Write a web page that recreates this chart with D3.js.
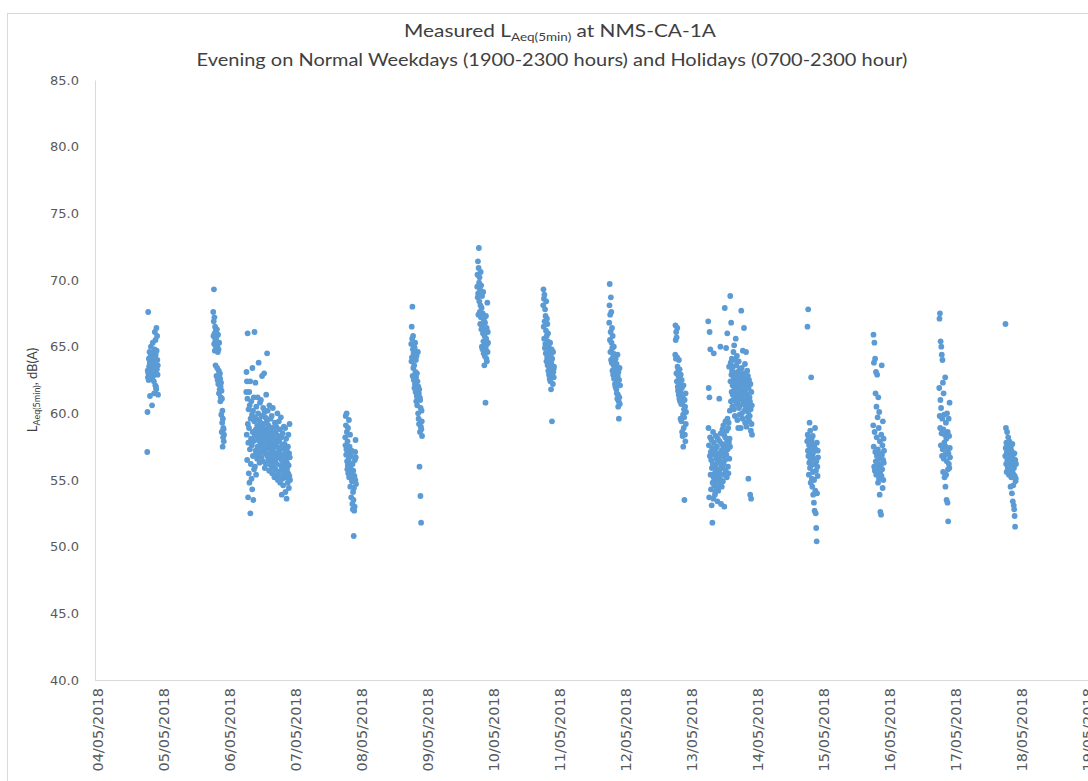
<!DOCTYPE html>
<meta charset="utf-8">
<title>Measured LAeq(5min) at NMS-CA-1A</title>
<style>
  body { margin: 0; background: white; }
  svg { font-family: Lato, sans-serif; background: white; }
  .axis path, .axis line { stroke: #d9d9d9; }
  .axis text { fill: #595959; }
</style>
<body>
<div id="chart"></div>
<script src="https://d3js.org/d3.v7.min.js"></script>
<script>

// LAeq(5min) readings, dB(A), one array per measuring window (5 minute steps)
var may04 = [57.1, 60.1, 63.2, 62.7, 67.6, 63.0, 62.5, 64.1, 63.5, 62.9, 64.6, 63.8, 61.3, 63.1, 62.8, 64.3,
  65.0, 63.6, 62.6, 64.0, 63.3, 60.6, 62.7, 64.5, 65.3, 63.9, 62.8, 64.2, 63.4, 62.4, 61.5, 63.7,
  64.8, 66.1, 63.0, 62.1, 65.5, 64.4, 62.0, 61.8, 66.4, 64.7, 63.3, 65.8, 64.0, 62.9, 63.6, 61.4];
var may05 = [67.6, 65.8, 66.9, 69.3, 65.2, 67.2, 66.0, 64.7, 66.5, 65.5, 63.6, 66.2, 64.9, 65.7, 62.8, 65.4,
  66.3, 63.4, 65.0, 62.5, 64.6, 65.9, 62.2, 64.8, 63.2, 61.5, 65.3, 62.9, 61.8, 63.0, 62.6, 60.9,
  62.0, 61.2, 62.3, 59.9, 61.7, 58.6, 61.1, 59.3, 60.2, 57.5, 59.6, 58.2, 58.9, 58.8, 57.9, 58.4];
var may06 = [
  61.6, 63.1, 58.4, 62.4, 56.5, 61.1, 66.0, 59.2, 53.7, 57.8, 60.3, 55.5,
  58.9, 61.6, 54.8, 60.6, 57.3, 62.4, 52.5, 59.6, 56.2, 58.1, 60.9, 55.1,
  57.6, 59.9, 54.3, 63.4, 58.6, 56.8, 60.2, 53.5, 57.9, 61.2, 55.8, 59.4,
  66.1, 58.3, 56.0, 59.7, 62.3, 57.2, 58.8, 55.4, 60.5, 57.0, 58.5, 56.6,
  59.1, 57.5, 61.2, 58.0, 60.0, 56.9, 63.8, 58.7, 57.4, 59.5, 56.3, 58.2,
  60.8, 57.7, 59.3, 58.4, 61.0, 57.1, 59.8, 56.7, 58.9, 62.8, 57.9, 59.0,
  58.1, 56.4, 60.4, 57.6, 59.2, 58.6, 63.0, 57.3, 60.1, 55.9, 58.3, 59.7,
  57.0, 58.8, 56.2, 61.4, 58.0, 57.5, 59.4, 64.5, 56.8, 58.5, 60.2, 57.8,
  56.5, 59.1, 57.4, 58.2, 55.7, 60.6, 57.9, 56.9, 58.7, 57.2, 59.6, 56.1,
  58.4, 57.1, 56.3, 59.8, 57.7, 55.5, 58.9, 56.7, 60.4, 57.3, 55.9, 58.1,
  57.6, 56.0, 58.5, 55.2, 57.0, 59.3, 56.4, 57.8, 55.8, 58.6, 56.6, 59.0,
  56.2, 58.0, 55.4, 57.5, 60.0, 56.8, 55.0, 58.3, 57.1, 55.6, 59.4, 56.9,
  57.9, 55.3, 56.7, 58.8, 54.8, 57.3, 56.1, 59.7, 55.7, 58.2, 56.5, 53.9,
  56.0, 57.6, 55.1, 58.5, 56.9, 54.6, 57.4, 55.9, 59.0, 56.3, 55.4, 57.7,
  55.6, 57.0, 58.9, 54.1, 56.6, 55.2, 58.1, 56.4, 53.6, 57.2, 55.8, 56.8,
  56.2, 54.8, 57.5, 55.5, 58.4, 56.1, 54.4, 57.0, 55.3, 59.2, 56.7, 55.0];
var may07 = [58.2, 57.6, 59.8, 59.1, 56.9, 57.3, 60.0, 58.6, 56.4, 55.8, 57.9, 56.1, 58.9, 55.5, 57.0, 56.6,
  59.5, 55.2, 56.3, 57.5, 55.9, 58.4, 54.5, 56.0, 55.4, 56.8, 53.7, 55.6, 57.2, 54.9, 55.1, 53.2,
  56.2, 52.8, 54.1, 55.7, 53.5, 50.8, 54.4, 52.7, 55.3, 53.0, 56.5, 57.1, 55.0, 58.0, 56.7, 54.7];
var may08 = [65.2, 63.9, 66.5, 64.2, 65.6, 68.0, 62.8, 64.8, 65.8, 63.4, 64.5, 62.5, 65.0, 63.6, 61.9, 64.9,
  62.2, 65.3, 63.1, 61.6, 64.0, 62.7, 60.9, 64.3, 61.3, 63.0, 60.6, 62.4, 61.1, 64.6, 60.0, 62.0,
  59.6, 61.5, 59.2, 61.8, 56.0, 61.2, 58.6, 61.0, 53.8, 60.4, 59.0, 51.8, 58.8, 60.2, 59.4, 58.3];
var may09 = [69.5, 70.4, 68.7, 71.4, 69.0, 67.4, 70.9, 72.4, 69.8, 68.4, 70.2, 67.6, 69.3, 66.7, 68.1, 70.6,
  67.2, 69.6, 66.3, 67.9, 65.0, 68.8, 66.5, 64.8, 67.5, 66.0, 69.1, 65.4, 64.5, 67.0, 66.2, 63.6,
  65.8, 64.3, 66.8, 65.1, 60.8, 64.9, 67.3, 65.6, 64.1, 66.4, 63.9, 65.2, 68.3, 64.6, 66.1, 65.3];
var may10 = [68.1, 69.3, 66.5, 68.6, 65.6, 68.9, 66.9, 64.9, 67.8, 65.2, 67.3, 64.5, 66.2, 68.4, 63.9, 65.8,
  67.1, 64.2, 66.7, 63.6, 65.4, 66.0, 63.2, 64.4, 65.0, 62.9, 64.7, 63.7, 62.6, 64.0, 65.3, 62.4,
  63.4, 64.3, 61.8, 63.8, 63.0, 64.8, 59.4, 64.1, 62.8, 63.5, 62.2, 64.6, 63.1, 63.3, 62.7, 63.5];
var may11 = [66.8, 68.1, 69.7, 65.5, 67.4, 64.6, 66.1, 68.7, 64.0, 67.6, 65.3, 63.8, 66.4, 64.9, 63.2, 65.8,
  64.2, 62.9, 64.5, 63.6, 65.0, 62.6, 63.9, 64.3, 63.0, 62.2, 63.5, 62.0, 64.1, 62.7, 63.3, 61.8,
  63.7, 61.5, 62.4, 61.1, 64.4, 62.8, 61.4, 60.5, 63.1, 60.9, 59.6, 62.5, 61.2, 63.4, 60.7, 62.1];
var may12 = [64.4, 66.6, 65.5, 64.1, 66.1, 63.0, 65.7, 62.4, 64.2, 66.4, 63.5, 62.0, 61.7, 63.2, 62.8, 61.4,
  64.0, 62.6, 61.1, 63.3, 62.2, 60.9, 61.6, 59.6, 62.9, 61.3, 60.7, 59.4, 62.5, 61.9, 58.6, 60.8,
  58.3, 61.2, 59.9, 57.5, 62.1, 58.9, 60.3, 59.7, 53.5, 61.0, 58.4, 60.5, 57.9, 61.5, 59.2, 60.1];
var may13 = [
  66.9, 58.9, 61.9, 57.6, 53.7, 61.2, 66.1, 56.8, 58.2, 64.8, 55.4, 57.1,
  54.3, 56.5, 58.0, 53.1, 55.9, 57.4, 51.8, 54.8, 56.2, 58.6, 53.6, 55.2,
  64.5, 57.8, 54.6, 56.9, 55.5, 53.9, 57.3, 54.1, 56.0, 58.3, 54.9, 55.7,
  56.6, 54.4, 57.5, 55.1, 53.4, 56.3, 58.1, 55.8, 54.2, 57.0, 55.3, 56.7,
  61.1, 55.6, 57.9, 54.7, 56.4, 65.0, 58.5, 55.0, 53.2, 57.2, 56.1, 54.5,
  57.7, 55.9, 58.8, 56.8, 54.9, 57.4, 59.1, 56.2, 55.4, 58.4, 53.0, 57.0,
  67.9, 56.5, 58.2, 59.4, 55.7, 57.6, 64.9, 56.9, 58.7, 55.2, 57.9, 66.0,
  59.6, 57.3, 56.0, 58.9, 55.5, 59.3, 57.8, 63.5, 56.6, 58.1, 60.2, 57.5,
  68.8, 62.4, 63.8, 60.9, 66.8, 62.9, 61.6, 64.1, 63.2, 60.5, 62.1, 61.4,
  63.5, 61.0, 64.6, 62.6, 60.3, 65.1, 61.8, 63.0, 59.8, 62.3, 64.0, 61.2,
  65.6, 62.8, 60.7, 63.6, 61.5, 64.3, 62.0, 59.5, 63.1, 60.9, 62.5, 58.9,
  61.9, 63.9, 60.4, 62.7, 61.3, 59.9, 63.3, 62.2, 60.6, 61.7, 58.9, 62.9,
  67.7, 61.1, 63.4, 60.0, 62.4, 61.6, 59.6, 64.7, 62.1, 60.8, 61.4, 63.0,
  66.4, 62.6, 60.2, 61.8, 63.7, 59.3, 62.3, 61.0, 60.5, 64.6, 61.5, 59.0,
  62.0, 60.7, 63.2, 61.3, 59.7, 62.8, 60.1, 55.1, 61.9, 60.4, 62.5, 59.4,
  61.2, 59.8, 60.9, 53.9, 62.2, 60.3, 58.7, 53.6, 61.6, 59.2, 60.6, 58.4];
var may14 = [57.9, 66.5, 58.4, 57.2, 67.8, 56.8, 58.1, 55.4, 57.6, 56.3, 59.3, 57.0, 55.9, 58.7, 56.5, 54.8,
  57.4, 62.7, 56.1, 58.0, 55.1, 57.7, 54.5, 56.9, 58.3, 55.6, 53.9, 57.1, 56.6, 53.3, 55.0, 57.5,
  52.7, 56.2, 58.9, 54.2, 57.3, 52.5, 55.7, 51.4, 56.4, 50.4, 57.8, 54.0, 56.0, 55.3, 57.2, 56.7];
var may15 = [59.1, 65.9, 57.5, 63.8, 56.0, 65.3, 58.6, 55.7, 64.1, 57.1, 61.5, 56.4, 63.1, 55.4, 60.5, 58.2,
  56.8, 62.9, 55.9, 59.7, 57.3, 54.8, 61.2, 56.2, 58.9, 55.1, 60.1, 56.6, 53.9, 57.9, 55.6, 52.6,
  57.0, 56.1, 52.4, 58.4, 55.3, 63.6, 56.9, 55.8, 57.6, 54.4, 59.4, 56.5, 55.0, 58.1, 56.3, 57.2];
var may16 = [61.9, 67.1, 59.8, 67.5, 58.9, 61.0, 65.4, 57.6, 60.4, 65.0, 58.5, 64.4, 56.8, 59.6, 64.0, 57.3,
  62.3, 55.6, 58.8, 61.5, 56.6, 59.9, 57.8, 55.2, 58.4, 56.9, 62.7, 54.5, 57.5, 59.3, 55.4, 58.1,
  53.5, 56.4, 60.0, 57.1, 53.3, 58.6, 55.8, 51.9, 57.0, 59.6, 56.2, 58.3, 55.9, 60.8, 57.4, 56.7];
var may17 = [56.8, 66.7, 57.4, 58.9, 56.2, 57.8, 55.6, 57.1, 58.6, 56.5, 57.6, 55.9, 56.9, 58.2, 56.3, 57.3,
  55.4, 56.7, 57.9, 56.0, 57.0, 55.7, 56.6, 54.5, 57.5, 56.1, 55.2, 57.2, 56.4, 54.0, 55.8, 57.7,
  56.8, 53.4, 55.5, 54.6, 56.3, 53.1, 55.9, 52.8, 57.0, 52.3, 55.3, 51.5, 56.5, 54.9, 55.1, 56.2];

// first reading of each window (weekday evenings from 1900, Sundays from 0700)
var startTimes = ["2018-05-04 19:00", "2018-05-05 19:00", "2018-05-06 07:00", "2018-05-07 19:00",
  "2018-05-08 19:00", "2018-05-09 19:00", "2018-05-10 19:00", "2018-05-11 19:00", "2018-05-12 19:00",
  "2018-05-13 07:00", "2018-05-14 19:00", "2018-05-15 19:00", "2018-05-16 19:00", "2018-05-17 19:00"];
var seriesValues = [may04, may05, may06, may07, may08, may09, may10, may11, may12, may13,
  may14, may15, may16, may17];

var yTicks = [40, 45, 50, 55, 60, 65, 70, 75, 80, 85];
var xTicks = ["2018-05-04", "2018-05-05", "2018-05-06", "2018-05-07", "2018-05-08", "2018-05-09",
  "2018-05-10", "2018-05-11", "2018-05-12", "2018-05-13", "2018-05-14", "2018-05-15", "2018-05-16",
  "2018-05-17", "2018-05-18", "2018-05-19"];

var width = 1088, height = 781;
var margin = {top: 80, left: 95, right: 3, bottom: 101};

var parseTime = d3.timeParse("%Y-%m-%d %H:%M");
var parseDay = d3.timeParse("%Y-%m-%d");

var points = [];
seriesValues.forEach(function(vals, k) {
  var t0 = parseTime(startTimes[k]);
  vals.forEach(function(v, i) {
    points.push({ time: d3.timeMinute.offset(t0, i * 5), value: v });
  });
});

var svg = d3.select("#chart")
  .append("svg")
    .attr("width", width)
    .attr("height", height);

// chart frame
svg.append("rect")
  .attr("x", 7.5).attr("y", 13.5)
  .attr("width", 1100).attr("height", 800)
  .attr("fill", "none")
  .attr("stroke", "#d9d9d9");

var x = d3.scaleTime()
  .domain([parseDay(xTicks[0]), parseDay(xTicks[xTicks.length - 1])])
  .range([margin.left, width - margin.right]);

var y = d3.scaleLinear()
  .domain([40, 85])
  .range([height - margin.bottom, margin.top]);

// Y axis
var yAxis = svg.append("g")
  .attr("class", "axis")
  .attr("transform", "translate(" + margin.left + ",0)")
  .call(d3.axisLeft(y).tickValues(yTicks).tickSize(0).tickPadding(16).tickFormat(d3.format(".1f")));
yAxis.selectAll("text")
  .style("font-family", "'DejaVu Sans'")
  .style("font-size", "13px");

// X axis
var xAxis = svg.append("g")
  .attr("class", "axis")
  .attr("transform", "translate(0," + y(40) + ")")
  .call(d3.axisBottom(x).tickValues(xTicks.map(parseDay)).tickSize(0).tickFormat(d3.timeFormat("%d/%m/%Y")));
xAxis.select(".domain").attr("d", "M" + margin.left + ",0.5H" + width);
xAxis.selectAll("text")
  .attr("transform", "rotate(-90)")
  .attr("text-anchor", "end")
  .attr("x", -8)
  .attr("y", 0)
  .attr("dy", "0.55em")
  .style("font-family", "'DejaVu Sans'")
  .style("font-size", "14.5px");

// dots
svg.append("g")
  .selectAll("circle")
  .data(points)
  .enter()
  .append("circle")
    .attr("cx", function(d) { return x(d.time); })
    .attr("cy", function(d) { return y(d.value); })
    .attr("r", 2.9)
    .style("fill", "#5b9bd5");

// titles
function fitWidth(sel, cx, target) {
  var w = sel.node().getComputedTextLength();
  var k = target / w;
  sel.attr("transform", "translate(" + cx + ",0) scale(" + k + ",1) translate(" + (-cx) + ",0)");
}

var title = svg.append("text")
  .attr("x", 560).attr("y", 37)
  .attr("text-anchor", "middle")
  .style("font-size", "17px")
  .style("fill", "#404040");
title.append("tspan").text("Measured L");
title.append("tspan").attr("dy", 4).style("font-size", "11px").text("Aeq(5min)");
title.append("tspan").attr("dy", -4).text(" at NMS-CA-1A");
fitWidth(title, 560, 312);

var subtitle = svg.append("text")
  .attr("x", 552).attr("y", 66)
  .attr("text-anchor", "middle")
  .style("font-size", "17px")
  .style("fill", "#404040")
  .text("Evening on Normal Weekdays (1900-2300 hours) and Holidays (0700-2300 hour)");
fitWidth(subtitle, 552, 711);

// y axis title
var yTitle = svg.append("text")
  .attr("transform", "translate(37,390) rotate(-90)")
  .attr("text-anchor", "middle")
  .style("font-size", "13px")
  .style("fill", "#404040");
yTitle.append("tspan").text("L");
yTitle.append("tspan").attr("dy", 3).style("font-size", "9px").text("Aeq(5min)");
yTitle.append("tspan").attr("dy", -3).text(", dB(A)");

</script>
</body>
